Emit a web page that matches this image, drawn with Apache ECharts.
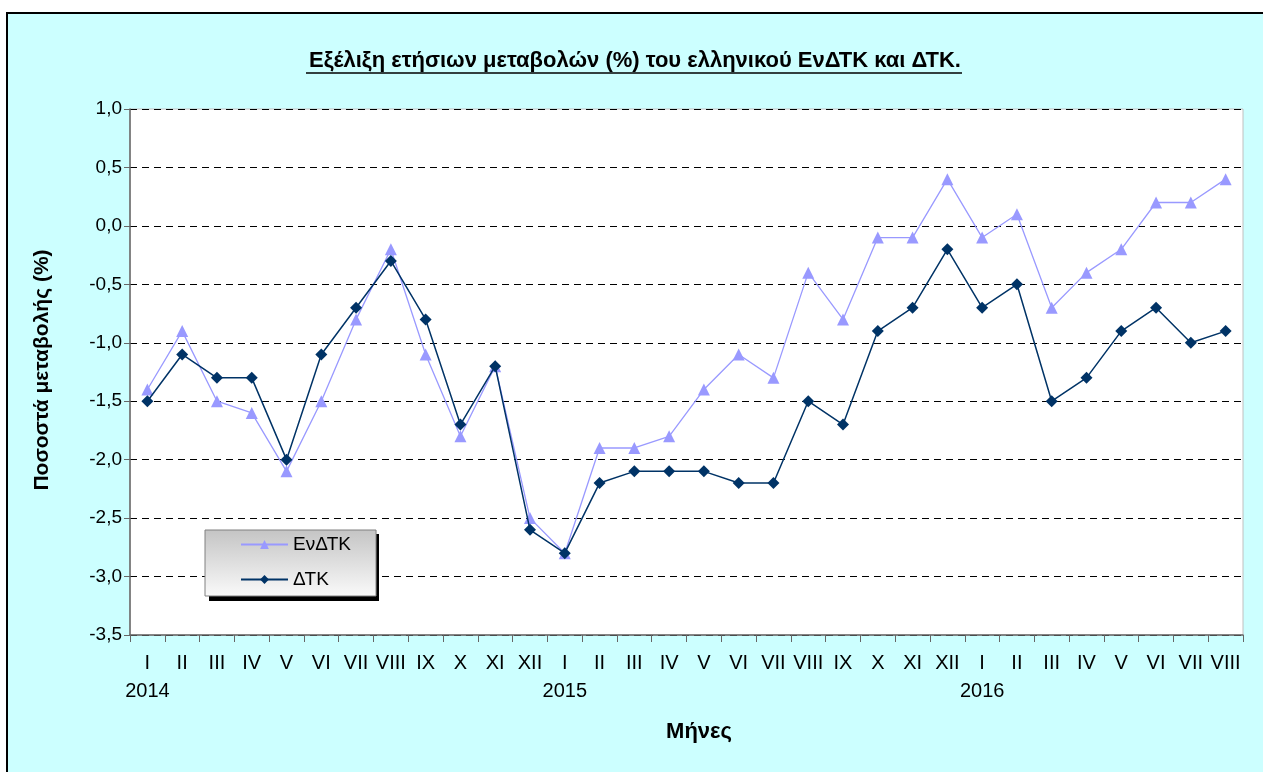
<!DOCTYPE html>
<html>
<head>
<meta charset="utf-8">
<script src="https://cdn.jsdelivr.net/npm/echarts@6/dist/echarts.min.js"></script>
<style>
  html, body { margin: 0; padding: 0; background: #fff; }
  #chart { width: 1263px; height: 772px; }
</style>
</head>
<body>
<div id="chart"></div>
<script>
// months Jan 2014 - Aug 2016
const months = ['I','II','III','IV','V','VI','VII','VIII','IX','X','XI','XII',
  'I','II','III','IV','V','VI','VII','VIII','IX','X','XI','XII',
  'I','II','III','IV','V','VI','VII','VIII'];
const years = { 0: '2014', 12: '2015', 24: '2016' };

const hicp = [-1.4, -0.9, -1.5, -1.6, -2.1, -1.5, -0.8, -0.2, -1.1, -1.8, -1.2, -2.5,
  -2.8, -1.9, -1.9, -1.8, -1.4, -1.1, -1.3, -0.4, -0.8, -0.1, -0.1, 0.4,
  -0.1, 0.1, -0.7, -0.4, -0.2, 0.2, 0.2, 0.4];
const cpi = [-1.5, -1.1, -1.3, -1.3, -2.0, -1.1, -0.7, -0.3, -0.8, -1.7, -1.2, -2.6,
  -2.8, -2.2, -2.1, -2.1, -2.1, -2.2, -2.2, -1.5, -1.7, -0.9, -0.7, -0.2,
  -0.7, -0.5, -1.5, -1.3, -0.9, -0.7, -1.0, -0.9];

const FONT = 'Liberation Sans, Arial, sans-serif';
const chart = echarts.init(document.getElementById('chart'));

chart.setOption({
  animation: false,
  backgroundColor: '#fff',
  textStyle: { fontFamily: FONT },
  graphic: [
    { type: 'rect', z: -10, shape: { x: 7, y: 13, width: 1270, height: 770 },
      style: { fill: '#CCFFFF', stroke: '#000', lineWidth: 2 } },
    { type: 'text', z: 10, style: { x: 635, y: 61, text: 'Εξέλιξη ετήσιων μεταβολών (%) του ελληνικού ΕνΔΤΚ και ΔΤΚ.',
      font: 'bold 22px ' + FONT, fill: '#000', textAlign: 'center', textVerticalAlign: 'middle' } },
    { type: 'line', z: 10, shape: { x1: 306, y1: 73, x2: 962, y2: 73 }, style: { stroke: '#000', lineWidth: 1.5 } },
    // legend drop shadow
    { type: 'rect', z: 5, shape: { x: 209, y: 534, width: 170, height: 67 }, style: { fill: '#000' } },
    { type: 'text', z: 10, style: { x: 699, y: 732, text: 'Μήνες', font: 'bold 22px ' + FONT,
      fill: '#000', textAlign: 'center', textVerticalAlign: 'middle' } },
    { type: 'text', z: 10, rotation: Math.PI / 2, x: 42, y: 370,
      style: { x: 0, y: 0, text: 'Ποσοστά μεταβολής (%)', font: 'bold 21px ' + FONT,
        fill: '#000', textAlign: 'center', textVerticalAlign: 'middle' } }
  ],
  legend: {
    orient: 'vertical',
    left: 205, top: 530,
    padding: [5, 25, 7, 35],
    itemGap: 16,
    itemWidth: 47, itemHeight: 11,
    z: 6,
    backgroundColor: {
      type: 'linear', x: 0, y: 0, x2: 0, y2: 1,
      colorStops: [{ offset: 0, color: '#c4c4c4' }, { offset: 1, color: '#fafafa' }]
    },
    borderColor: '#808080', borderWidth: 1,
    textStyle: { fontSize: 19, color: '#000', fontFamily: FONT },
    data: ['ΕνΔΤΚ', 'ΔΤΚ']
  },
  grid: {
    left: 130, top: 109, right: 20, bottom: 137,
    show: true, backgroundColor: '#fff', borderColor: '#c0c0c0', borderWidth: 1
  },
  xAxis: {
    type: 'category',
    data: months,
    boundaryGap: true,
    axisLine: { onZero: false, lineStyle: { color: '#666', width: 1.5 } },
    axisTick: { show: true, length: 7, interval: 0, lineStyle: { color: '#666' } },
    axisLabel: {
      interval: 0, margin: 14, color: '#000',
      formatter: (v, i) => years[i] ? '{m|' + v + '}\n{y|' + years[i] + '}' : '{m|' + v + '}',
      rich: {
        m: { fontSize: 20, lineHeight: 28, fontFamily: FONT, color: '#000' },
        y: { fontSize: 20, lineHeight: 28, fontFamily: FONT, color: '#000' }
      },
      verticalAlign: 'top'
    },
    splitLine: { show: false }
  },
  yAxis: {
    type: 'value',
    min: -3.5, max: 1.0, interval: 0.5,
    axisLine: { show: true, lineStyle: { color: '#666', width: 1.5 } },
    axisTick: { show: true, length: 6, lineStyle: { color: '#666' } },
    axisLabel: { fontSize: 19, color: '#000', margin: 8,
      formatter: v => v.toFixed(1).replace('.', ',') },
    splitLine: { show: true, lineStyle: { color: '#000', type: [7, 5], width: 1 } }
  },
  series: [
    {
      name: 'ΕνΔΤΚ', type: 'line', data: hicp,
      symbol: 'triangle', symbolSize: 12,
      itemStyle: { color: '#9999FF' },
      lineStyle: { color: '#9999FF', width: 1.3 },
      z: 3
    },
    {
      name: 'ΔΤΚ', type: 'line', data: cpi,
      symbol: 'diamond', symbolSize: 12,
      itemStyle: { color: '#003366' },
      lineStyle: { color: '#003366', width: 1.5 },
      z: 4
    }
  ]
});
</script>
</body>
</html>
